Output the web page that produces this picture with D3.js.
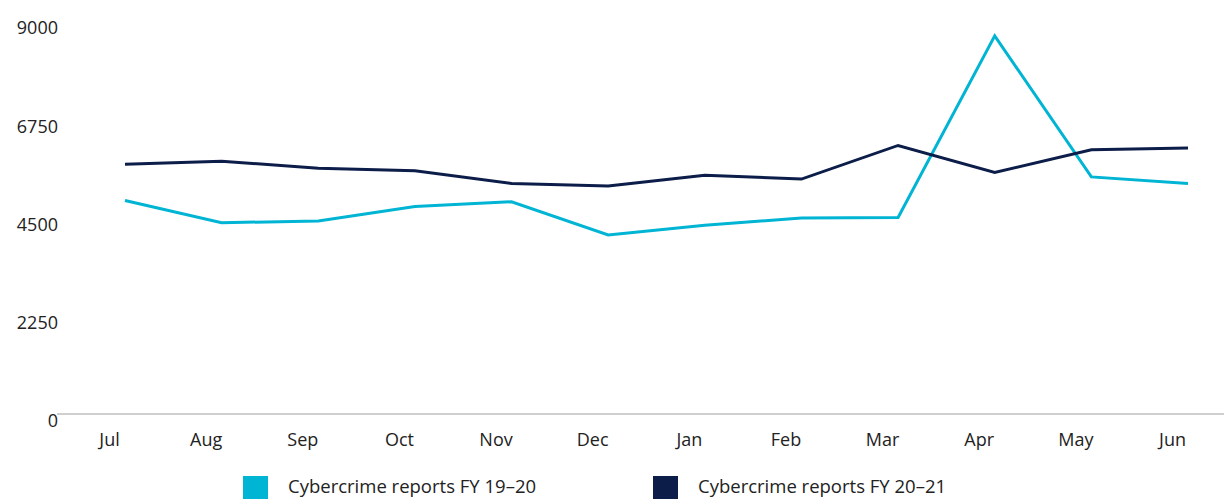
<!DOCTYPE html>
<html>
<head>
<meta charset="utf-8">
<script src="https://cdn.jsdelivr.net/npm/d3@7"></script>
<style>
  body { margin: 0; background: #fff; }
  svg text { font-family: "Open Sans", "Lato", sans-serif; fill: #222; }
</style>
</head>
<body>
<div id="chart"></div>
<script>
// chart data
var months = ["Jul", "Aug", "Sep", "Oct", "Nov", "Dec", "Jan", "Feb", "Mar", "Apr", "May", "Jun"];
var fy1920 = [4890, 4380, 4420, 4750, 4860, 4100, 4320, 4490, 4500, 8660, 5430, 5280];
var fy2021 = [5720, 5790, 5630, 5570, 5280, 5220, 5470, 5380, 6150, 5530, 6050, 6090];
var yTicks = [0, 2250, 4500, 6750, 9000];
var seriesNames = ["Cybercrime reports FY 19\u201320", "Cybercrime reports FY 20\u201321"];
var seriesColors = ["#00b4d4", "#0b1d48"];

var svgWidth = 1224;
var svgHeight = 499;

var svg = d3.select("#chart")
  .append("svg")
  .attr("width", svgWidth)
  .attr("height", svgHeight);

// scales
var x = d3.scalePoint()
  .domain(months)
  .range([125, 1188]);

var y = d3.scaleLinear()
  .domain([0, 9000])
  .range([414, 21]);

// baseline
svg.append("line")
  .attr("x1", 57)
  .attr("x2", svgWidth)
  .attr("y1", y(0))
  .attr("y2", y(0))
  .attr("stroke", "#cfcfcf")
  .attr("stroke-width", 2);

// y axis labels (no thousands separator)
var leftAxis = d3.axisLeft(y).tickValues(yTicks).tickFormat(d3.format("d")).tickSize(0).tickPadding(0);
var yAxisG = svg.append("g")
  .attr("transform", "translate(58, 7)")
  .call(leftAxis);
yAxisG.select(".domain").remove();
yAxisG.selectAll("text")
  .attr("font-size", "18px")
  .style("font-family", "'Open Sans', Lato, sans-serif")
  .attr("fill", "#222");

// x axis labels
var bottomAxis = d3.axisBottom(x).tickSize(0).tickPadding(0);
var xAxisG = svg.append("g")
  .attr("transform", "translate(-16, 433)")
  .call(bottomAxis);
xAxisG.select(".domain").remove();
xAxisG.selectAll("text")
  .attr("font-size", "18px")
  .style("font-family", "'Open Sans', Lato, sans-serif")
  .attr("fill", "#222");

// lines
var line = d3.line()
  .x(function(d, i) { return x(months[i]); })
  .y(function(d) { return y(d); });

[fy1920, fy2021].forEach(function(series, i) {
  svg.append("path")
    .datum(series)
    .attr("fill", "none")
    .attr("stroke", seriesColors[i])
    .attr("stroke-width", 3)
    .attr("stroke-linejoin", "miter")
    .attr("d", line);
});

// legend
var legendX = [243, 653];
seriesNames.forEach(function(name, i) {
  var g = svg.append("g")
    .attr("transform", "translate(" + legendX[i] + ", 476)");
  g.append("rect")
    .attr("width", 25)
    .attr("height", 23)
    .attr("fill", seriesColors[i]);
  g.append("text")
    .attr("x", 45)
    .attr("y", 17)
    .attr("font-size", "18.5px")
    .text(name);
});
</script>
</body>
</html>
